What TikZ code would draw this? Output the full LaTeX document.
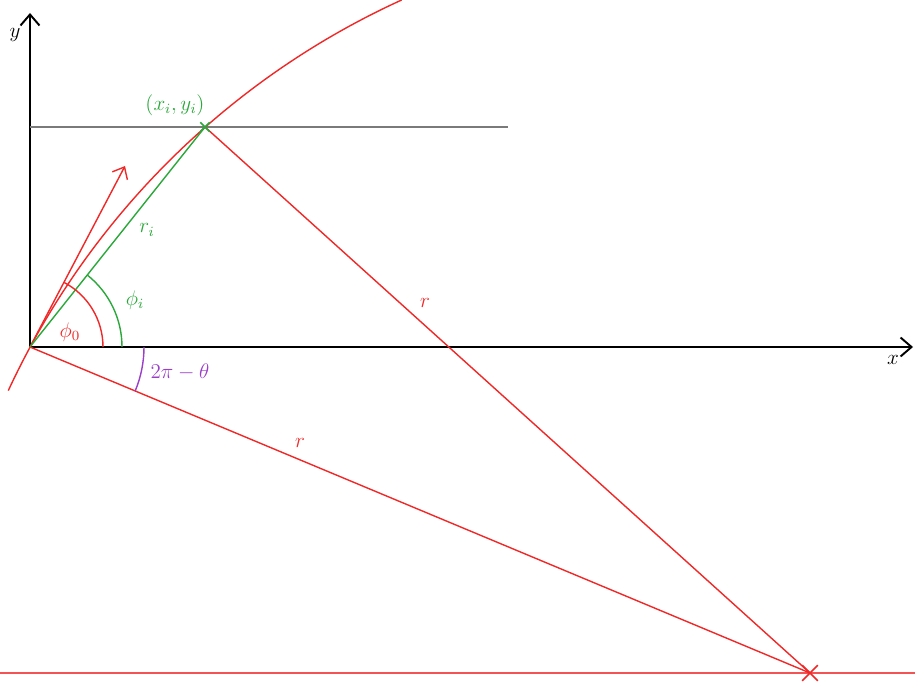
\documentclass[tikz,border=0pt]{standalone}
\usepackage{tikz}
\usetikzlibrary{arrows.meta, shapes.misc}
\definecolor{cRed}{HTML}{F02828}
\definecolor{cGreen}{HTML}{2AA83A}
\definecolor{cPurple}{HTML}{9B3FC8}
\definecolor{cGray}{HTML}{7A7A7A}

\begin{document}
\begin{tikzpicture}[x=0.02cm, y=0.02cm, font=\large,
    axis/.style={line width=1.1pt, -{Straight Barb[length=2.2mm, width=3.8mm]}},
    redline/.style={cRed, line width=0.8pt},
    mark x/.style={draw, cross out, inner sep=0pt, line width=0.9pt}]
  \useasboundingbox (-30,-339) rectangle (885,347);
  \coordinate (O) at (0,0);
  \coordinate (P) at (175,220);
  \coordinate (C) at (780,-326);
  \coordinate (T) at (95,181);
  \coordinate (Xend) at (883,0);
  \coordinate (Yend) at (0,334);
  \coordinate (Ya) at (0,220);
  \coordinate (Gr) at (478,220);
  \coordinate (Bl) at (-30,-326);
  \coordinate (Br) at (885,-326);
  % axes
  \draw[axis] (O) -- (Xend);
  \draw[axis] (O) -- (Yend);
  \node (xlab) at (863,-13) {$x$};
  \node (ylab) at (-15,312) {$y$};
  \draw[cGray, line width=0.7pt] (Ya) -- (Gr);
  \draw[cRed!80, line width=0.6pt] (Bl) -- (Br);
  % circle through origin and (x_i,y_i)
  \draw[redline] (703,-380) ++(155.1:799) arc (155.1:114.5:799);
  \draw[redline, -{Straight Barb[length=2mm, width=3.4mm]}] (O) -- (T);
  \draw[redline] (P) -- (C);
  \draw[redline] (O) -- (C);
  \draw[cGreen, line width=0.8pt] (O) -- (P);
  % angles
  \draw[redline] (73,0) arc (0:62:73);
  \draw[cGreen, line width=0.8pt] (92,0) arc (0:51.5:92);
  \draw[cPurple, line width=0.8pt] (114,0) arc (0:-22.7:114);
  \node[mark x, cGreen, minimum size=4.5pt] (Pm) at (P) {};
  \node[mark x, cRed, minimum size=8pt] (Cm) at (C) {};
  % labels
  \node[cGreen] (plab) at (145,242) {$(x_i,y_i)$};
  \node[cGreen] (rilab) at (117,117) {$r_i$};
  \node[cGreen] (philab) at (105,47) {$\phi_i$};
  \node[cRed] (phizlab) at (40,15) {$\phi_0$};
  \node[cPurple] (thlab) at (150,-25) {$2\pi-\theta$};
  \node[cRed] (r1lab) at (395,44) {$r$};
  \node[cRed] (r2lab) at (270,-96) {$r$};
\end{tikzpicture}
\end{document}
